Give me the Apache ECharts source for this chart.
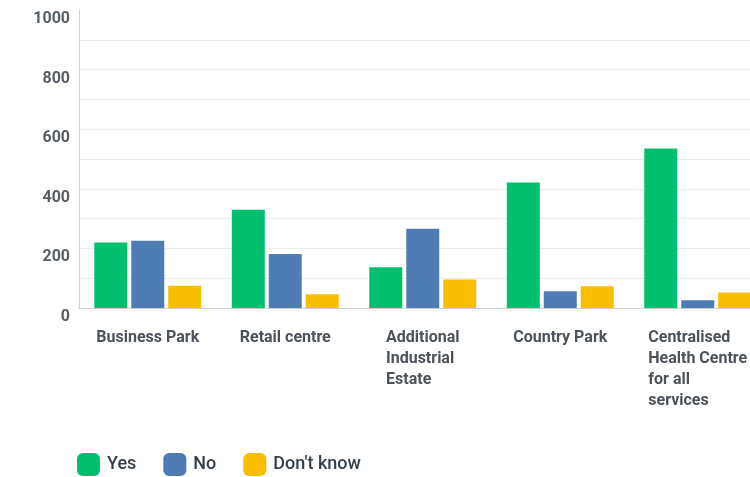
<!DOCTYPE html>
<html>
<head>
<meta charset="utf-8">
<script src="https://cdn.jsdelivr.net/npm/echarts@6/dist/echarts.min.js"></script>
<style>
html,body{margin:0;padding:0;background:#fff;}
#chart{width:750px;height:477px;}
</style>
</head>
<body>
<div id="chart"></div>
<script>
const categories = ['Business Park', 'Retail centre', 'Additional\nIndustrial\nEstate', 'Country Park', 'Centralised\nHealth Centre\nfor all\nservices'];
const seriesNames = ['Yes', 'No', "Don't know"];
const yesValues = [220, 330, 137, 421, 535];
const noValues = [226, 181, 266, 56, 26];
const dontKnowValues = [75, 46, 96, 73, 52];
const colors = ['#00BF6F', '#507CB6', '#F9BE00'];

const chart = echarts.init(document.getElementById('chart'), null, {renderer: 'canvas'});
const gridLineColors = [];
for (let i = 0; i <= 10; i++) gridLineColors.push(i === 10 ? 'rgba(0,0,0,0)' : '#ececec');

const mkSeries = (name, data, color) => ({
  name: name,
  type: 'bar',
  data: data,
  barWidth: 33,
  barGap: '12%',
  itemStyle: {color: color},
  emphasis: {disabled: true}
});

chart.setOption({
  animation: false,
  color: colors,
  grid: {left: 79, top: 10, bottom: 169, right: -16.5, containLabel: false, outerBoundsMode: 'none'},
  legend: {
    left: 77,
    top: 453,
    padding: 0,
    itemWidth: 23,
    itemHeight: 23,
    itemGap: 27,
    icon: 'roundRect',
    textStyle: {fontFamily: 'Roboto', fontSize: 18, fontWeight: 500, color: '#333e48', padding: [5, 0, 0, 2]},
    data: seriesNames
  },
  xAxis: {
    type: 'category',
    data: categories,
    axisLine: {show: true, lineStyle: {color: '#cfcfcf', width: 1}},
    axisTick: {show: false},
    axisLabel: {
      interval: 0,
      margin: 19.5,
      align: 'center',
      verticalAlign: 'top',
      color: '#4b5259',
      fontFamily: 'Roboto',
      fontWeight: 'bold',
      fontSize: 16,
      lineHeight: 21,
      formatter: function (v) {
        return v.split('\n').map(function (l) { return '{a|' + l + '}'; }).join('\n');
      },
      rich: {a: {align: 'left', color: '#4b5259', fontFamily: 'Roboto', fontWeight: 'bold', fontSize: 16, lineHeight: 21}}
    }
  },
  yAxis: {
    type: 'value',
    min: 0,
    max: 1000,
    interval: 100,
    axisLine: {show: true, lineStyle: {color: '#d2d2d2', width: 1}},
    axisTick: {show: false},
    splitLine: {show: true, lineStyle: {color: gridLineColors, width: 1}},
    axisLabel: {
      margin: 9,
      verticalAlign: 'top',
      padding: [1, 0, 0, 0],
      color: '#555d65',
      fontFamily: 'Roboto',
      fontWeight: 'bold',
      fontSize: 16,
      formatter: function (v) { return v % 200 === 0 ? String(v) : ''; }
    }
  },
  series: [
    mkSeries(seriesNames[0], yesValues, colors[0]),
    mkSeries(seriesNames[1], noValues, colors[1]),
    mkSeries(seriesNames[2], dontKnowValues, colors[2])
  ]
});
</script>
</body>
</html>
